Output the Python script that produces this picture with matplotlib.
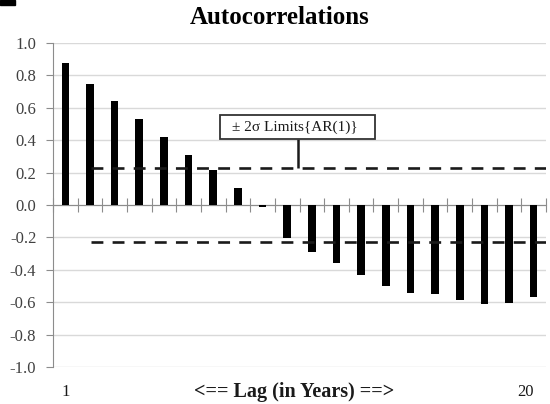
import matplotlib
matplotlib.use("Agg")
import matplotlib.pyplot as plt
import matplotlib.transforms as mtransforms
from matplotlib.patches import Rectangle

lags = list(range(1, 21))
acf = [0.875, 0.745, 0.642, 0.529, 0.418, 0.307, 0.216, 0.103, -0.015, -0.206,
       -0.292, -0.360, -0.430, -0.502, -0.543, -0.551, -0.588, -0.613, -0.607, -0.566]
limit = 0.23
limit_start = 2.04
yticks = [-1.0, -0.8, -0.6, -0.4, -0.2, 0.0, 0.2, 0.4, 0.6, 0.8, 1.0]
title = "Autocorrelations"
xlabel_mid = "<== Lag (in Years) ==>"
box_text = "\u00b1 2\u03c3 Limits{AR(1)}"

plt.rcParams['font.family'] = ['Liberation Serif', 'DejaVu Serif']

fig = plt.figure(figsize=(5.5, 4.04), dpi=100)
ax = fig.add_axes([53/550, (404-367)/404, (546-53)/550, (367-43)/404])

ax.set_xlim(0.5, 20.5)
ax.set_ylim(-1.0, 1.0)

for y in yticks:
    ax.axhline(y, color='#d9d9d9', lw=1.0, zorder=0)

ax.bar(lags, acf, width=0.31, color='black', zorder=3)

# limits
ax.plot([limit_start, 20.5], [limit, limit], color='#1a1a1a', lw=1.9,
        dashes=(4.5, 3.5), zorder=4, solid_capstyle='butt')
ax.plot([limit_start, 20.5], [-limit, -limit], color='#1a1a1a', lw=1.9,
        dashes=(4.5, 3.5), zorder=4, solid_capstyle='butt')

# spines
for s in ['top', 'right']:
    ax.spines[s].set_visible(False)
ax.spines['left'].set_color('#8c8c8c')
ax.spines['bottom'].set_position(('data', 0))
ax.spines['bottom'].set_color('#8c8c8c')
ax.spines['bottom'].set_zorder(2)

ax.set_yticks(yticks)
ax.set_yticklabels([f"{v:.1f}" for v in yticks])
ax.tick_params(axis='y', direction='out', length=5, color='#8c8c8c',
               labelsize=12, labelcolor='#404040', pad=7)
ax.set_xticks([i + 0.5 for i in range(0, 21)])
ax.set_xticklabels([])
ax.tick_params(axis='x', direction='inout', length=10, color='#8c8c8c')

# bottom labels
trans = mtransforms.blended_transform_factory(ax.transData, ax.transAxes)
ax.text(1, -0.076, "1", transform=trans, ha='center', va='center',
        fontsize=12, color='#1a1a1a')
ax.text(19.65, -0.076, "20", transform=trans, ha='center', va='center',
        fontsize=12, color='#1a1a1a')
ax.text(10.27, -0.076, xlabel_mid, transform=trans, ha='center', va='center',
        fontsize=14.5, fontweight='bold', color='#1a1a1a')

# title
fig.text(280/550, 1 - 18/404, title, ha='center', va='center',
         fontsize=18, fontweight='bold', color='black')

# annotation box with leader line
ax.plot([10.43, 10.43], [0.407, limit], color='#1a1a1a', lw=1.8, zorder=5,
        solid_capstyle='butt')
ax.add_patch(Rectangle((7.29, 0.407), 13.55 - 7.29, 0.556 - 0.407,
                       facecolor='white', edgecolor='#333333', lw=1.3, zorder=6))
ax.text(10.3, 0.48, box_text, ha='center', va='center', fontsize=11,
        color='#1a1a1a', zorder=7)

# small crop artifact at top-left
fig.patches.append(Rectangle((0, 1 - 5/404), 15/550, 5/404, transform=fig.transFigure,
                             color='black', zorder=10))

fig.savefig("out.png", dpi=100)
